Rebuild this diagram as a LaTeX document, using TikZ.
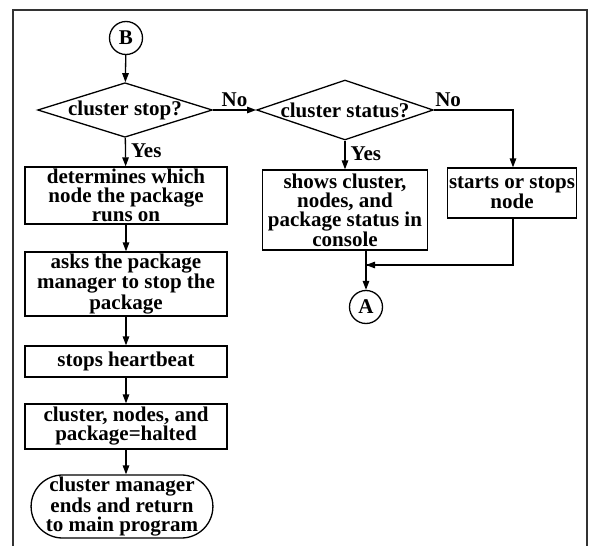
\documentclass[tikz,border=0pt]{standalone}
\usepackage{fontspec}
\setmainfont{Liberation Serif}
\usetikzlibrary{shapes.geometric, shapes.misc, arrows.meta}

\tikzset{
    txt/.style = {font=\bfseries\fontsize{21}{19}\selectfont, align=center, inner sep=0pt},
    procbox/.style = {txt, draw, line width=1.3pt, rectangle},
    decision/.style = {txt, draw, line width=1.3pt, diamond, aspect=3.2},
    endbox/.style = {txt, draw, line width=1.3pt, rounded rectangle, inner xsep=-5pt},
    connector/.style = {txt, draw, line width=1.3pt, circle, minimum size=33pt},
    flow/.style = {line width=1.3pt, -{Triangle[length=9pt, width=6.5pt]}},
    plain/.style = {line width=1.3pt}
}

\begin{document}
\begin{tikzpicture}[x=1pt, y=-1pt]

    \useasboundingbox (0,0) rectangle (590,546);

    % Frame
    \draw [line width=2pt, black!80] (13,546) -- (13,10) -- (587,10) -- (587,546);

    % Connectors
    \node [connector] (B) at (126,38) {B};
    \node [connector] (A) at (366,307) {A};

    % Decisions
    \node [decision, minimum width=168pt, minimum height=54pt] (stop) at (125,110) {cluster stop?};
    \node [decision, minimum width=170pt, minimum height=60pt] (status) at (345,110) {cluster status?};

    % Left column
    \node [procbox, minimum width=202pt, minimum height=57pt] (which) at (126,195.5)
        {determines which\\node the package\\runs on};
    \node [procbox, minimum width=202pt, minimum height=64pt] (ask) at (126,284)
        {asks the package\\manager to stop the\\package};
    \node [procbox, minimum width=202pt, minimum height=31pt] (beat) at (126,361.5)
        {stops heartbeat};
    \node [procbox, minimum width=202pt, minimum height=45pt] (halt) at (126,426.5)
        {cluster, nodes, and\\package=halted};
    \node [endbox, minimum height=63pt] (finish) at (122,506.5)
        {cluster manager\\ends and return\\to main program};

    % Right part
    \node [procbox, minimum width=165pt, minimum height=80pt] (show) at (345,210)
        {shows cluster,\\nodes, and\\package status in\\console};
    \node [procbox, minimum width=129pt, minimum height=50pt] (toggle) at (512,193)
        {starts or stops\\node};

    % Flow
    \draw [flow] (B) -- (stop);
    \draw [flow] (stop) -- node [txt, right, pos=0.45, xshift=5pt] {Yes} (which);
    \draw [flow] (which) -- (ask);
    \draw [flow] (ask) -- (beat);
    \draw [flow] (beat) -- (halt);
    \draw [flow] (halt) -- (finish.north -| halt);
    \draw [flow] (stop) -- node [txt, above, yshift=3pt] {No} (status);
    \draw [flow] (status) -- node [txt, right, pos=0.45, xshift=5pt] {Yes} (show);
    \draw [flow] (status.east) -| node [txt, above, pos=0.09, yshift=3pt] {No} (toggle.north -| 513,0);

    % Merge to A
    \coordinate (merge) at (366,265);
    \draw [plain] (toggle.south -| 513,0) |- (merge);
    \draw [flow] (513,265) -- (merge);
    \draw [flow] (show.south -| A) -- (A);

\end{tikzpicture}
\end{document}
